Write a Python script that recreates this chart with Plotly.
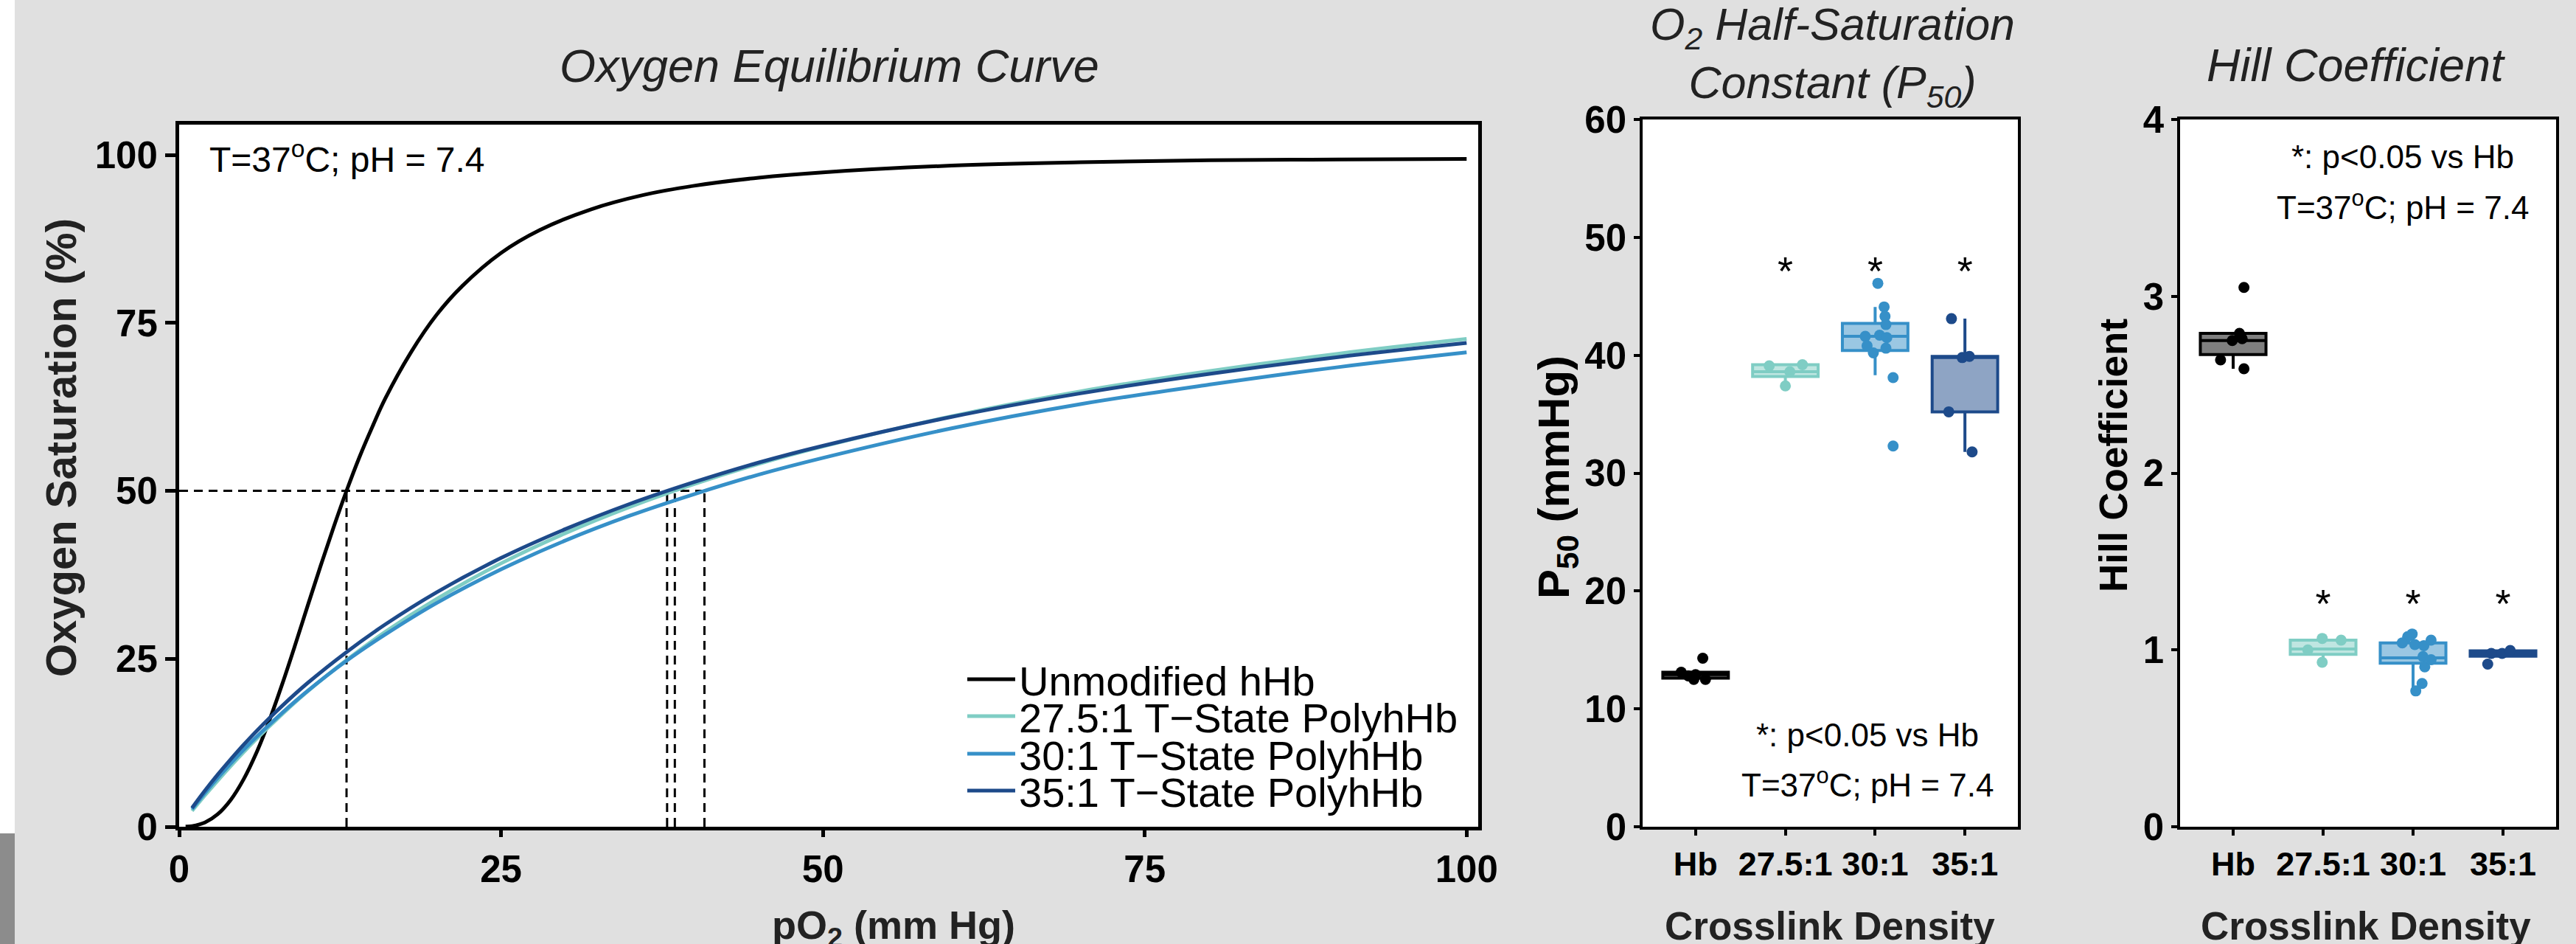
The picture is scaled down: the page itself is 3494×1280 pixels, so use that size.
import plotly.graph_objects as go

W, H = 3494, 1280


def px(x):
    return x / W


def py(y):
    return 1 - y / H


FONT = "Liberation Sans, Arial, Helvetica, sans-serif"

# ---------------- data: oxygen equilibrium curves ----------------
series_names = ["Unmodified hHb", "27.5:1 T\u2212State PolyhHb",
                "30:1 T\u2212State PolyhHb", "35:1 T\u2212State PolyhHb"]
series_colors = ["#000000", "#7fcdc4", "#3690c8", "#1d4a8a"]

po2_hb = [0.5, 1, 2, 3, 4, 5, 6, 7, 8, 9, 10, 11, 12, 13, 14, 15, 16, 18, 20, 22,
          25, 28, 32, 36, 40, 45, 50, 60, 70, 80, 90, 100]
sat_hb = [0.02, 0.1, 0.63, 1.87, 3.98, 7.04, 11.0, 15.8, 21.2, 27.0, 33.0, 38.9, 44.6,
          50.0, 55.0, 59.5, 63.7, 70.6, 76.2, 80.5, 85.4, 88.8, 91.9, 94.0, 95.4, 96.6,
          97.4, 98.4, 98.9, 99.2, 99.3, 99.4]
po2_poly = [1, 2, 3, 4, 5, 6, 8, 10, 13, 16, 20, 25, 30, 35, 40, 45, 50, 60, 70, 80, 90, 100]
sat_275 = [2.36, 4.67, 6.89, 9.03, 11.08, 13.06, 16.75, 20.18, 24.8, 29.0, 33.9, 39.2,
           43.7, 47.6, 51.0, 54.0, 56.6, 61.1, 64.8, 67.8, 70.4, 72.6]
sat_30 = [2.62, 5.02, 7.28, 9.41, 11.43, 13.37, 16.95, 20.25, 24.7, 28.6, 33.3, 38.3,
          42.6, 46.3, 49.5, 52.4, 54.9, 59.3, 62.9, 65.8, 68.4, 70.6]
sat_35 = [2.81, 5.38, 7.78, 10.04, 12.18, 14.22, 17.99, 21.43, 26.0, 30.1, 34.9, 40.0,
          44.3, 48.05, 51.3, 54.2, 56.7, 61.0, 64.5, 67.4, 69.9, 72.0]
p50_marks = [13.0, 37.9, 38.5, 40.8]

# ---------------- data: box plots ----------------
categories = ["Hb", "27.5:1", "30:1", "35:1"]

p50_q1 = [12.6, 38.2, 40.4, 35.2]
p50_med = [12.9, 38.6, 41.6, 39.8]
p50_q3 = [13.1, 39.2, 42.7, 39.9]
p50_lo = [12.5, 37.4, 38.3, 31.8]
p50_hi = [13.1, 39.2, 44.1, 43.1]
p50_points = [
    [13.1, 12.5, 14.3, 12.5, 12.9, 12.8],
    [39.1, 37.4, 39.2, 38.6],
    [46.1, 44.1, 43.3, 42.6, 41.6, 41.7, 41.5, 40.8, 40.2, 40.6, 38.1, 32.3],
    [43.1, 39.8, 35.2, 31.8, 39.9],
]
p50_jitter = [
    [-0.16, -0.02, 0.08, 0.11, 0.0, -0.08],
    [-0.18, 0.0, 0.19, 0.05],
    [0.03, 0.10, 0.11, 0.12, -0.11, 0.05, 0.13, -0.09, -0.02, 0.12, 0.20, 0.20],
    [-0.15, -0.03, -0.18, 0.08, 0.05],
]

hill_q1 = [2.67, 0.975, 0.925, 0.965]
hill_med = [2.75, 1.005, 0.955, 0.98]
hill_q3 = [2.79, 1.055, 1.04, 0.995]
hill_lo = [2.59, 0.93, 0.77, 0.965]
hill_hi = [2.79, 1.055, 1.09, 0.997]
hill_points = [
    [3.05, 2.79, 2.75, 2.76, 2.64, 2.59],
    [1.00, 1.065, 1.055, 0.93],
    [1.075, 1.09, 1.04, 1.03, 1.024, 1.055, 0.962, 0.904, 0.945, 0.81, 0.768],
    [0.92, 0.98, 0.98, 0.997],
]
hill_jitter = [
    [0.12, 0.07, -0.01, 0.10, -0.14, 0.12],
    [-0.17, -0.01, 0.20, -0.01],
    [-0.06, -0.01, -0.12, 0.02, 0.12, 0.20, 0.11, 0.13, 0.20, 0.10, 0.03],
    [-0.17, -0.13, -0.01, 0.08],
]
box_fills = ["rgba(0,0,0,0.5)", "rgba(127,205,196,0.5)", "rgba(54,144,200,0.5)",
             "rgba(29,74,138,0.5)"]
sig_groups = [1, 2, 3]
sig_y_p50 = 46.8
sig_y_hill = 1.24

fig = go.Figure()

# ---------------- left panel ----------------
dash_c = dict(color="black", width=3, dash="12px,8px")
fig.add_trace(go.Scatter(x=[0, max(p50_marks)], y=[50, 50], mode="lines", line=dash_c,
                         showlegend=False, hoverinfo="skip", xaxis="x", yaxis="y"))
for p in p50_marks:
    fig.add_trace(go.Scatter(x=[p, p], y=[0, 50], mode="lines", line=dash_c,
                             showlegend=False, hoverinfo="skip", xaxis="x", yaxis="y"))

curve_x = [po2_hb, po2_poly, po2_poly, po2_poly]
curve_y = [sat_hb, sat_275, sat_30, sat_35]
legend_ids = ["legend", "legend2", "legend3", "legend4"]
for i in range(4):
    fig.add_trace(go.Scatter(x=curve_x[i], y=curve_y[i], mode="lines", name=series_names[i],
                             line=dict(color=series_colors[i], width=5, shape="spline"),
                             legend=legend_ids[i], xaxis="x", yaxis="y"))

# ---------------- box panels ----------------
for (xa, ya, q1, med, q3, lo, hi, pts, jit) in [
        ("x2", "y2", p50_q1, p50_med, p50_q3, p50_lo, p50_hi, p50_points, p50_jitter),
        ("x3", "y3", hill_q1, hill_med, hill_q3, hill_lo, hill_hi, hill_points, hill_jitter)]:
    for i in range(4):
        fig.add_trace(go.Box(x=[i], q1=[q1[i]], median=[med[i]], q3=[q3[i]],
                             lowerfence=[lo[i]], upperfence=[hi[i]], width=0.73,
                             whiskerwidth=0, boxpoints=False,
                             line=dict(color=series_colors[i], width=4),
                             fillcolor=box_fills[i], showlegend=False, hoverinfo="skip",
                             xaxis=xa, yaxis=ya))
        fig.add_trace(go.Scatter(x=[i + j for j in jit[i]], y=pts[i], mode="markers",
                                 marker=dict(color=series_colors[i], size=15),
                                 showlegend=False, hoverinfo="skip", xaxis=xa, yaxis=ya))

fig.add_trace(go.Scatter(x=sig_groups, y=[sig_y_p50] * 3, mode="text", text=["*"] * 3,
                         textfont=dict(family=FONT, size=54, color="black"),
                         showlegend=False, hoverinfo="skip", xaxis="x2", yaxis="y2"))
fig.add_trace(go.Scatter(x=sig_groups, y=[sig_y_hill] * 3, mode="text", text=["*"] * 3,
                         textfont=dict(family=FONT, size=54, color="black"),
                         showlegend=False, hoverinfo="skip", xaxis="x3", yaxis="y3"))

# ---------------- axes ----------------
common = dict(showline=True, mirror=True, linecolor="black", showgrid=False,
              zeroline=False, ticks="outside", tickcolor="black", automargin=False)

fig.update_layout(
    xaxis=dict(domain=[px(243), px(2005)], range=[0, 100.9], tickvals=[0, 25, 50, 75, 100],
               linewidth=5, ticklen=9, tickwidth=5, anchor="y",
               tickfont=dict(family=FONT, size=51, color="black", weight="bold"), **common),
    yaxis=dict(domain=[py(1121), py(169)], range=[0, 104.5], tickvals=[0, 25, 50, 75, 100],
               linewidth=5, ticklen=14, tickwidth=5, anchor="x",
               tickfont=dict(family=FONT, size=51, color="black", weight="bold"), **common),
    xaxis2=dict(domain=[px(2228), px(2737)], range=[-0.59, 3.59], tickvals=[0, 1, 2, 3],
                ticktext=categories, linewidth=3.5, ticklen=8, tickwidth=4, anchor="y2",
                tickfont=dict(family=FONT, size=45, color="black", weight="bold"), **common),
    yaxis2=dict(domain=[py(1121), py(162)], range=[0, 60], dtick=10,
                linewidth=3.5, ticklen=8, tickwidth=4, anchor="x2",
                tickfont=dict(family=FONT, size=51, color="black", weight="bold"), **common),
    xaxis3=dict(domain=[px(2957), px(3467)], range=[-0.59, 3.59], tickvals=[0, 1, 2, 3],
                ticktext=categories, linewidth=3.5, ticklen=8, tickwidth=4, anchor="y3",
                tickfont=dict(family=FONT, size=45, color="black", weight="bold"), **common),
    yaxis3=dict(domain=[py(1121), py(162)], range=[0, 4], dtick=1,
                linewidth=3.5, ticklen=8, tickwidth=4, anchor="x3",
                tickfont=dict(family=FONT, size=51, color="black", weight="bold"), **common),
)

# ---------------- legends ----------------
legend_rows = [921, 971, 1022, 1072]
for lid, yc in zip(legend_ids, legend_rows):
    fig.layout[lid] = dict(x=px(1307), y=py(yc), xanchor="left", yanchor="middle",
                           bgcolor="rgba(0,0,0,0)", borderwidth=0, itemwidth=65,
                           font=dict(family=FONT, size=56, color="black"))

# ---------------- text ----------------
def ann(text, x, y, size, xanchor="center", yanchor="middle", angle=0, bold=False,
        italic=False, color="black"):
    fig.add_annotation(text=text, x=px(x), y=py(y), xref="paper", yref="paper",
                       xanchor=xanchor, yanchor=yanchor, textangle=angle, showarrow=False,
                       font=dict(family=FONT, size=size, color=color,
                                 weight="bold" if bold else "normal",
                                 style="italic" if italic else "normal"))


ann("Oxygen Equilibrium Curve", 1125, 89, 63, italic=True, color="#222222")
ann("O<sub>2</sub> Half-Saturation<br>Constant (P<sub>50</sub>)", 2485, 77, 61,
    italic=True, color="#222222")
ann("Hill Coefficient", 3195, 88, 63, italic=True, color="#222222")

ann("Oxygen Saturation (%)", 82, 607, 58, angle=-90, bold=True, color="#222222")
ann("P<sub>50</sub> (mmHg)", 2112, 647, 60, angle=-90, bold=True)
ann("Hill Coefficient", 2866, 618, 53, angle=-90, bold=True)

ann("pO<sub>2</sub> (mm Hg)", 1212, 1258, 54, bold=True, color="#222222")
ann("Crosslink Density", 2482, 1255, 53, bold=True, color="#222222")
ann("Crosslink Density", 3209, 1255, 53, bold=True, color="#222222")

ann("T=37<sup>o</sup>C; pH = 7.4", 282, 213, 48, xanchor="left")
ann("*: p&lt;0.05 vs Hb", 2533, 996, 44)
ann("T=37<sup>o</sup>C; pH = 7.4", 2533, 1061, 44)
ann("*: p&lt;0.05 vs Hb", 3259, 212, 44)
ann("T=37<sup>o</sup>C; pH = 7.4", 3259, 278, 44)

# stray strip at the left edge of the picture
fig.add_shape(type="rect", xref="paper", yref="paper", x0=0, x1=px(20), y0=py(1130), y1=1,
              fillcolor="white", line=dict(width=0), layer="below")
fig.add_shape(type="rect", xref="paper", yref="paper", x0=0, x1=px(20), y0=0, y1=py(1130),
              fillcolor="#8c8c8c", line=dict(width=0), layer="below")

fig.update_layout(width=W, height=H,
                  margin=dict(l=0, r=0, t=0, b=0, pad=0, autoexpand=False),
                  paper_bgcolor="#e0e0e0", plot_bgcolor="white",
                  font=dict(family=FONT, color="black"))

fig.write_html("out.html")
